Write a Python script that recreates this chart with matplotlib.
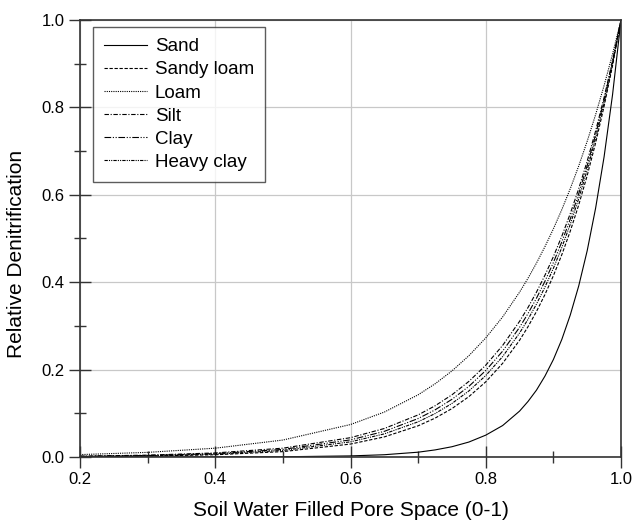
import matplotlib.pyplot as plt
from matplotlib.ticker import MultipleLocator

plt.rcParams['font.family'] = ['Liberation Sans', 'DejaVu Sans']

# values
wfps = [0.2, 0.3, 0.4, 0.5, 0.6, 0.65, 0.7, 0.725, 0.75, 0.775, 0.8, 0.825, 0.85,
        0.8625, 0.875, 0.8875, 0.9, 0.9125, 0.925, 0.9375, 0.95, 0.9625, 0.975,
        0.9875, 1.0]
sand = [0.00001, 0.00003, 0.00012, 0.00055, 0.0025, 0.0052, 0.011, 0.0162, 0.0235,
        0.0342, 0.050, 0.072, 0.105, 0.1271, 0.153, 0.1850, 0.223, 0.2691, 0.325,
        0.3916, 0.472, 0.5698, 0.687, 0.8290, 1.0]
sandy_loam = [0.00088, 0.00211, 0.00509, 0.0123, 0.0296, 0.0460, 0.0714, 0.0889,
              0.1108, 0.1381, 0.1720, 0.2144, 0.2671, 0.2982, 0.3329, 0.3716, 0.4148,
              0.4630, 0.5169, 0.5769, 0.6440, 0.7189, 0.8025, 0.8958, 1.0]
loam = [0.0055, 0.0106, 0.0202, 0.0388, 0.0743, 0.1028, 0.1423, 0.1674, 0.1969,
        0.2317, 0.2725, 0.3206, 0.3772, 0.4091, 0.4437, 0.4813, 0.5220, 0.5662,
        0.6141, 0.6661, 0.7225, 0.7837, 0.8500, 0.9220, 1.0]
silt = [0.00195, 0.00425, 0.0093, 0.0202, 0.0442, 0.0652, 0.0963, 0.1171, 0.1423,
        0.1729, 0.2101, 0.2554, 0.3104, 0.3421, 0.3772, 0.4158, 0.4584, 0.5054,
        0.5571, 0.6141, 0.6771, 0.7464, 0.8228, 0.9071, 1.0]
clay = [0.00153, 0.00345, 0.00775, 0.0174, 0.0392, 0.0587, 0.0880, 0.1078, 0.1320,
        0.1616, 0.1979, 0.2423, 0.2967, 0.3283, 0.3633, 0.4020, 0.4449, 0.4923,
        0.5447, 0.6027, 0.6670, 0.7380, 0.8167, 0.9037, 1.0]
heavy_clay = [0.00121, 0.00280, 0.00647, 0.0150, 0.0347, 0.0529, 0.0805, 0.0993,
              0.1225, 0.1511, 0.1864, 0.2299, 0.2837, 0.3151, 0.3499, 0.3887, 0.4317,
              0.4795, 0.5326, 0.5916, 0.6570, 0.7298, 0.8106, 0.9003, 1.0]

fig = plt.figure(figsize=(6.35, 5.2), dpi=100)
ax = fig.add_axes([80/635, 63/520, 541/635, 437/520])

lw = 0.8
ax.plot(wfps, sand, color='black', lw=lw, linestyle='-', label='Sand')
ax.plot(wfps, sandy_loam, color='black', lw=lw, linestyle=(0, (3, 1.5)), label='Sandy loam')
ax.plot(wfps, loam, color='black', lw=lw, linestyle=(0, (1, 1)), label='Loam')
ax.plot(wfps, silt, color='black', lw=lw, linestyle=(0, (4, 1.5, 1, 1.5)), label='Silt')
ax.plot(wfps, clay, color='black', lw=lw, linestyle=(0, (6, 1.5, 1, 1.5, 1, 1.5)), label='Clay')
ax.plot(wfps, heavy_clay, color='black', lw=lw, linestyle=(0, (3, 1, 1, 1, 1, 1)), label='Heavy clay')

ax.set_xlim(0.2, 1.0)
ax.set_ylim(0.0, 1.0)
ax.xaxis.set_major_locator(MultipleLocator(0.2))
ax.xaxis.set_minor_locator(MultipleLocator(0.1))
ax.yaxis.set_major_locator(MultipleLocator(0.2))
ax.yaxis.set_minor_locator(MultipleLocator(0.1))
ax.tick_params(which='major', direction='inout', length=16, width=1, labelsize=12,
               color='#333333', pad=3)
ax.tick_params(which='minor', direction='inout', length=8, width=1, color='#333333')
ax.grid(True, which='major', color='#c8c8c8', lw=0.9)
ax.set_axisbelow(True)
for s in ax.spines.values():
    s.set_color('#333333')
    s.set_linewidth(1.2)

ax.set_xlabel('Soil Water Filled Pore Space (0-1)', fontsize=15)
ax.set_ylabel('Relative Denitrification', fontsize=15)
ax.xaxis.set_label_coords(0.5, -0.1)
ax.yaxis.set_label_coords(-0.1, 0.465)

leg = ax.legend(loc='upper left', bbox_to_anchor=(13/541, 1 - 7/437), fontsize=13.5,
                frameon=True, fancybox=False, edgecolor='#333333', handlelength=2.3,
                labelspacing=0.32, borderpad=0.6, borderaxespad=0, handletextpad=0.4)
leg.get_frame().set_linewidth(1.0)

fig.savefig('out.png', dpi=100)
